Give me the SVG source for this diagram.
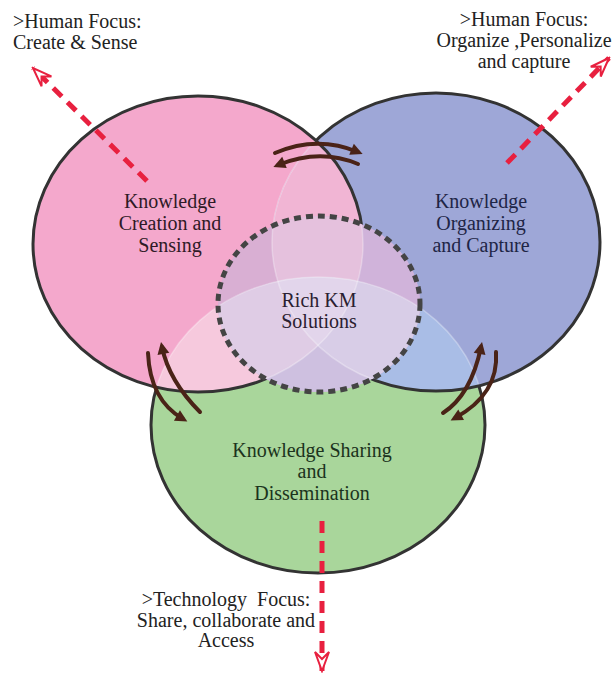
<svg xmlns="http://www.w3.org/2000/svg" width="613" height="674" viewBox="0 0 613 674">
<style>
.lbl{font-family:"Liberation Serif","Times New Roman",serif;font-size:20px;text-anchor:middle}
.ann{font-family:"Liberation Serif","Times New Roman",serif;font-size:20px;fill:#222}
.out{fill:none;stroke:#333;stroke-width:3}
.faint{fill:none;stroke:#fff;stroke-opacity:0.3;stroke-width:1.5}
.red{fill:none;stroke:#e8203f;stroke-width:5;stroke-dasharray:12 8}
.brown{fill:none;stroke:#4a2317;stroke-width:4;stroke-linecap:round}
</style>
<defs>
<ellipse id="eP" cx="198" cy="244" rx="165" ry="148"/>
<ellipse id="eB" cx="436" cy="242" rx="164" ry="149"/>
<ellipse id="eG" cx="318" cy="425" rx="167" ry="148"/>
<ellipse id="eD" cx="319" cy="304" rx="101" ry="88"/>
<clipPath id="cP"><use href="#eP"/></clipPath>
<clipPath id="cB"><use href="#eB"/></clipPath>
<clipPath id="cD"><use href="#eD"/></clipPath>
<mask id="mPB" maskUnits="userSpaceOnUse" x="0" y="0" width="613" height="674">
<rect width="613" height="674" fill="#fff"/>
<use href="#eP" fill="#000"/><use href="#eB" fill="#000"/>
</mask>
<mask id="mP" maskUnits="userSpaceOnUse" x="0" y="0" width="613" height="674">
<rect width="613" height="674" fill="#fff"/>
<use href="#eP" fill="#000"/>
</mask>
<marker id="redHead" markerUnits="userSpaceOnUse" viewBox="-21 -9 23 18" refX="0" refY="0" markerWidth="23" markerHeight="18" orient="auto">
<path d="M0,0 L-19,-7 L-12,0 L-19,7 Z" fill="#fff" stroke="#e8203f" stroke-width="2" stroke-linejoin="miter"/>
</marker>
<marker id="brHead" markerUnits="userSpaceOnUse" viewBox="-13 -7 15 14" refX="-5" refY="0" markerWidth="15" markerHeight="14" orient="auto">
<path d="M0,0 L-12,-6 L-12,6 Z" fill="#4a2317"/>
</marker>
</defs>
<rect width="613" height="674" fill="#fff"/>

<g id="node-sharing">
<use href="#eG" fill="#a9d69b"/>
<text class="lbl" fill="#1c331d"><tspan x="312" y="457">Knowledge Sharing</tspan><tspan x="312" y="478">and</tspan><tspan x="312" y="500">Dissemination</tspan></text>
</g>
<g id="node-creation">
<use href="#eP" fill="#f4a8cc"/>
<text class="lbl" fill="#2e1a26"><tspan x="170" y="208">Knowledge</tspan><tspan x="170" y="230">Creation and</tspan><tspan x="170" y="252">Sensing</tspan></text>
</g>
<g id="node-organizing">
<use href="#eB" fill="#9ea7d7"/>
<text class="lbl" fill="#1e2546"><tspan x="481" y="208">Knowledge</tspan><tspan x="481" y="230">Organizing</tspan><tspan x="481" y="252">and Capture</tspan></text>
</g>

<g id="overlaps">
<g clip-path="url(#cP)"><use href="#eB" fill="#f1b5d4"/><use href="#eG" fill="#f6c9dd"/></g>
<g clip-path="url(#cB)"><use href="#eG" fill="#a9bde6"/></g>
<g clip-path="url(#cP)"><g clip-path="url(#cB)"><use href="#eG" fill="#e3d6ec"/></g></g>
</g>

<g id="outlines">
<g clip-path="url(#cP)"><use href="#eG" class="faint"/><use href="#eB" class="faint"/></g>
<g clip-path="url(#cB)"><use href="#eG" class="faint"/></g>
<use href="#eG" class="out" mask="url(#mPB)"/>
<use href="#eB" class="out" mask="url(#mP)"/>
<use href="#eP" class="out"/>
</g>

<g id="node-rich-km">
<g clip-path="url(#cD)">
<rect x="210" y="210" width="220" height="190" fill="#d9afd3"/>
<use href="#eB" fill="#d0b3da"/>
<g clip-path="url(#cP)"><use href="#eB" fill="#e5c1dd"/></g>
<use href="#eG" fill="#cec0e0"/>
<g clip-path="url(#cP)"><use href="#eG" fill="#dfcce5"/></g>
<g clip-path="url(#cB)"><use href="#eG" fill="#d8cde7"/></g>
<g clip-path="url(#cP)"><g clip-path="url(#cB)"><use href="#eG" fill="#e2d5eb"/></g></g>
<use href="#eP" class="faint"/><use href="#eB" class="faint"/><use href="#eG" class="faint"/>
</g>
<use href="#eD" fill="none" stroke="#444" stroke-width="5" stroke-dasharray="7 5"/>
<text class="lbl" fill="#2a2030"><tspan x="319" y="307">Rich KM</tspan><tspan x="319" y="328">Solutions</tspan></text>
</g>

<g id="connectors">
<path class="red" d="M147,181 L33,68" marker-end="url(#redHead)"/>
<path class="red" d="M507,163 L609,58" marker-end="url(#redHead)"/>
<path class="red" d="M322,521 L322,671" marker-end="url(#redHead)"/>
<path class="brown" d="M275,153 Q317,135 358,152" marker-end="url(#brHead)"/>
<path class="brown" d="M358,164 Q320,148 278,165" marker-end="url(#brHead)"/>
<path class="brown" d="M148,353 Q150,400 183,419" marker-end="url(#brHead)"/>
<path class="brown" d="M200,412 Q169,381 162,347" marker-end="url(#brHead)"/>
<path class="brown" d="M443,413 Q471,395 481,347" marker-end="url(#brHead)"/>
<path class="brown" d="M496,352 Q499,394 455,418" marker-end="url(#brHead)"/>
</g>

<g id="annotations">
<text class="ann"><tspan x="13" y="28">&gt;Human Focus:</tspan><tspan x="13" y="49">Create &amp; Sense</tspan></text>
<text class="ann" text-anchor="middle"><tspan x="524" y="26">&gt;Human Focus:</tspan><tspan x="524" y="47">Organize ,Personalize</tspan><tspan x="524" y="68">and capture</tspan></text>
<text class="ann" text-anchor="middle" xml:space="preserve" style="white-space:pre"><tspan x="226" y="606">&gt;Technology  Focus:</tspan><tspan x="226" y="627">Share, collaborate and</tspan><tspan x="226" y="647">Access</tspan></text>
</g>
</svg>
